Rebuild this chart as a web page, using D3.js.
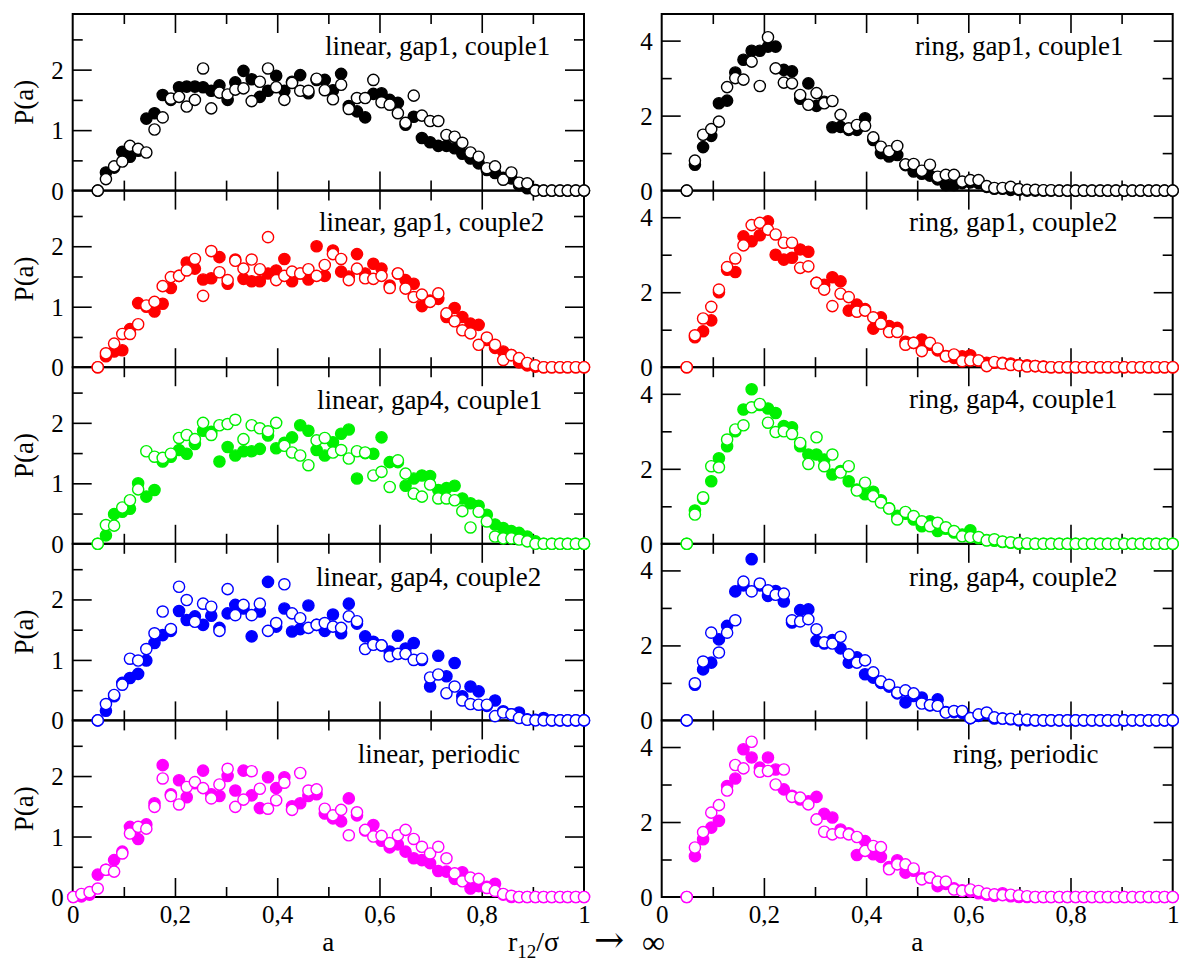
<!DOCTYPE html>
<html><head><meta charset="utf-8">
<script src="https://cdn.jsdelivr.net/npm/d3@7"></script>
<style>body{margin:0;background:#fff}</style>
</head><body>
<svg id="c" width="1180" height="970"></svg>
<script>
// ---------- DATA ----------
const aGrid = [0.049,0.065,0.081,0.097,0.112,0.128,0.144,0.160,0.176,0.192,0.208,0.223,0.239,0.255,0.271,0.287,0.303,0.318,0.334,0.350,0.366,0.382,0.398,0.414,0.429,0.445,0.461,0.477,0.493,0.509,0.525,0.540,0.556,0.572,0.588,0.604,0.620,0.636,0.651,0.667,0.683,0.699,0.715,0.731,0.747,0.762,0.778,0.794,0.810,0.826,0.842,0.858,0.873,0.889,0.905,0.921,0.937,0.953,0.968,0.984,1.000];
const aGridPeriodic = [0.001,0.017,0.033].concat(aGrid);

const linG1C1Filled = [0,0.30,0.38,0.64,0.56,0.66,1.19,1.28,1.58,1.50, 1.71,1.72,1.72,1.71,1.65,1.74,1.50,1.79,1.98,1.84, 1.55,1.65,1.90,1.65,1.80,1.91,1.61,1.83,1.83,1.66, 1.93,1.40,1.31,1.21,1.60,1.61,1.50,1.45,1.09,1.22, 0.87,0.80,0.74,0.74,0.70,0.61,0.53,0.45,0.34,0.29, 0.21,0.20,0.09,0.04,0.01,0,0,0,0,0,0];
const linG1C1Open = [0,0.19,0.40,0.48,0.74,0.69,0.63,1.01,1.21,1.52, 1.55,1.39,1.50,2.02,1.36,1.62,1.59,1.67,1.69,1.48, 1.80,2.02,1.71,1.50,1.78,1.65,1.65,1.85,1.66,1.51, 1.75,1.35,1.53,1.53,1.83,1.46,1.42,1.28,1.12,1.57, 1.24,1.15,1.15,0.92,0.89,0.79,0.63,0.56,0.37,0.40, 0.18,0.30,0.13,0.12,0,0,0,0,0,0,0];

const linG1C2Filled = [0,0.18,0.26,0.28,0.63,1.06,1.00,0.92,1.05,1.31, 1.51,1.73,1.63,1.45,1.47,1.82,1.38,1.78,1.46,1.42, 1.42,1.55,1.60,1.79,1.42,1.55,1.45,2.00,1.51,1.93, 1.58,1.50,1.87,1.55,1.71,1.63,1.35,1.55,1.44,1.38, 1.01,1.10,1.13,0.83,0.98,0.83,0.72,0.70,0.45,0.32, 0.26,0.20,0.08,0.03,0.01,0,0,0,0,0,0];
const linG1C2Open = [0,0.23,0.39,0.55,0.55,0.71,1.02,1.08,1.34,1.49, 1.51,1.60,1.79,1.18,1.92,1.57,1.44,1.76,1.63,1.78, 1.62,2.15,1.44,1.51,1.58,1.55,1.62,1.51,1.69,1.87, 1.79,1.44,1.63,1.47,1.46,1.51,1.31,1.55,1.30,1.16, 1.20,1.08,1.22,0.89,0.76,0.61,0.56,0.37,0.49,0.37, 0.12,0.20,0.15,0.07,0.03,0,0,0,0,0,0];

const linG4C1Filled = [0,0.14,0.49,0.53,0.58,1.00,0.78,0.89,1.36,1.44, 1.55,1.49,1.65,1.87,1.85,1.36,1.60,1.46,1.53,1.53, 1.57,1.79,1.58,1.67,1.76,1.96,1.87,1.55,1.46,1.68, 1.82,1.89,1.08,1.50,1.49,1.76,1.35,1.35,0.96,1.08, 1.13,1.12,0.89,0.92,0.96,0.75,0.67,0.63,0.48,0.32, 0.26,0.21,0.18,0.12,0.04,0,0,0,0,0,0];
const linG4C1Open = [0,0.31,0.30,0.60,0.72,0.90,1.53,1.44,1.42,1.49, 1.75,1.80,1.73,2.00,1.80,1.96,1.98,2.05,1.73,1.96, 1.91,1.86,2.00,1.62,1.51,1.46,1.30,1.71,1.75,1.51, 1.55,1.41,1.53,1.51,1.13,1.19,0.94,1.38,1.16,0.83, 0.78,0.98,0.75,0.75,0.72,0.54,0.27,0.53,0.37,0.12, 0.09,0.09,0.07,0.04,0,0,0,0,0,0,0];

const linG4C2Filled = [0,0.16,0.40,0.62,0.70,0.77,0.99,1.28,1.41,1.48, 1.81,1.66,1.72,1.58,1.73,1.53,1.77,1.91,1.85,1.39, 1.80,2.29,1.55,1.85,1.47,1.51,1.90,1.58,1.48,1.75, 1.44,1.93,1.60,1.39,1.30,1.24,1.14,1.40,1.19,1.28, 1.00,0.56,1.07,0.73,0.95,0.40,0.56,0.48,0.24,0.33, 0.15,0.10,0.13,0.02,0.01,0.04,0,0,0,0,0];
const linG4C2Open = [0,0.27,0.42,0.59,1.02,0.99,1.18,1.44,1.80,1.51, 2.21,1.99,1.63,1.93,1.88,1.48,2.17,1.74,1.91,1.74, 1.93,1.48,1.61,2.25,1.77,1.69,1.53,1.58,1.61,1.55, 1.53,1.72,1.64,1.18,1.25,1.24,1.06,1.10,1.10,1.00, 1.02,0.71,0.76,0.45,0.56,0.33,0.27,0.26,0.26,0.07, 0.13,0.10,0.04,0.01,0,0,0,0,0,0,0];

const linPerFilled = [0,0.01,0.04, 0.37,0.45,0.61,0.75,1.16,0.96,1.20,1.55,2.18,1.70, 1.93,1.65,1.88,2.09,1.70,1.67,2.00,1.76,2.09,1.68, 1.47,1.98,1.80,1.98,1.50,1.55,1.67,1.70,1.38,1.30, 1.25,1.63,1.35,1.10,1.19,0.93,0.82,0.87,0.75,0.64, 0.61,0.56,0.43,0.42,0.30,0.41,0.14,0.18,0.17,0.22, 0.04,0,0,0,0,0,0,0,0,0,0];
const linPerOpen = [0,0.05,0.08, 0.14,0.45,0.42,0.72,1.05,1.16,1.13,1.49,1.96,1.67, 1.53,1.82,1.90,1.80,1.63,1.86,2.12,1.49,1.61,2.08, 1.79,1.46,1.60,1.89,1.44,2.05,1.76,1.78,1.46,1.35, 1.44,1.02,1.40,1.11,1.00,1.01,0.89,1.02,1.11,0.96, 0.83,0.72,0.83,0.64,0.39,0.26,0.32,0.30,0.15,0.10, 0.05,0.02,0,0,0,0,0,0,0,0,0];

const ringG1C1Filled = [0,0.69,1.16,1.46,2.33,2.40,3.15,3.49,3.73,3.73, 3.84,3.84,3.22,3.18,2.45,2.86,2.26,2.37,1.69,1.70, 1.62,1.62,1.93,1.35,1.00,0.91,0.95,0.68,0.51,0.45, 0.40,0.30,0.15,0.15,0.20,0.22,0.20,0.10,0.05,0.05, 0.02,0.02,0,0,0,0,0,0,0,0, 0,0,0,0,0,0,0,0,0,0,0];
const ringG1C1Open = [0,0.80,1.49,1.64,1.84,2.76,3.00,2.96,3.44,2.79, 4.09,3.26,2.88,2.86,2.55,2.29,2.60,2.33,2.39,2.02, 1.66,1.75,1.73,1.42,1.17,1.05,1.19,0.70,0.71,0.53, 0.69,0.37,0.42,0.42,0.24,0.28,0.28,0.12,0.07,0.07, 0.10,0.04,0.02,0.02,0.01,0.01,0,0,0,0, 0,0,0,0,0,0,0,0,0,0,0];

const ringG1C2Filled = [0,0.80,0.96,1.25,2.00,2.60,2.54,3.49,3.36,3.52, 3.89,3.00,2.87,2.92,3.14,3.08,2.25,2.20,2.40,2.29, 1.51,1.67,1.55,1.03,1.33,1.10,1.05,0.68,0.65,0.74, 0.60,0.45,0.30,0.25,0.29,0.32,0.18,0.12,0.12,0.12, 0.10,0.06,0.05,0.03,0.02,0,0,0,0,0, 0,0,0,0,0,0,0,0,0,0,0];
const ringG1C2Open = [0,0.85,1.30,1.61,2.07,2.67,2.90,3.25,3.79,3.85, 3.67,3.54,3.32,3.32,2.65,2.69,2.25,2.07,1.63,1.96, 1.87,1.48,1.51,1.33,1.16,0.94,0.94,0.60,0.65,0.43, 0.65,0.50,0.29,0.34,0.16,0.18,0.18,0.03,0.14,0.10, 0.06,0.05,0.02,0.03,0.01,0,0,0,0,0, 0,0,0,0,0,0,0,0,0,0,0];

const ringG4C1Filled = [0,0.89,1.20,1.67,2.28,2.60,3.00,3.58,4.12,3.70, 3.61,3.49,3.14,3.11,2.60,2.38,2.38,2.25,1.85,1.94, 1.67,1.45,1.32,1.39,1.16,0.95,0.75,0.80,0.65,0.47, 0.60,0.34,0.40,0.30,0.25,0.36,0.15,0.10,0.08,0.05, 0.03,0,0,0,0,0,0,0,0,0, 0,0,0,0,0,0,0,0,0,0,0];
const ringG4C1Open = [0,0.78,1.24,2.07,2.04,2.78,3.05,3.16,3.64,3.73, 3.23,2.98,3.00,2.93,2.69,2.13,2.84,2.07,2.38,1.90, 2.07,1.42,1.63,1.27,1.10,0.94,0.65,0.85,0.74,0.60, 0.47,0.56,0.44,0.34,0.20,0.18,0.18,0.09,0.12,0.06, 0.04,0.02,0.01,0,0,0,0,0,0,0, 0,0,0,0,0,0,0,0,0,0,0];

const ringG4C2Filled = [0,0.95,1.36,1.54,2.16,2.52,3.44,3.60,4.30,3.60, 3.32,3.45,3.17,2.61,2.94,2.96,2.12,2.05,2.14,1.92, 1.54,1.68,1.23,1.14,1.00,0.90,0.72,0.48,0.65,0.61, 0.40,0.56,0.22,0.22,0.20,0.06,0.12,0.18,0.05,0.05, 0.03,0,0,0,0,0,0,0,0,0, 0,0,0,0,0,0,0,0,0,0,0];
const ringG4C2Open = [0,0.99,1.57,2.34,1.81,2.34,2.67,3.70,3.44,3.65, 3.47,3.35,3.38,2.67,2.64,2.70,2.43,2.08,2.05,2.23, 1.76,1.54,1.60,1.28,1.04,0.95,0.74,0.80,0.72,0.45, 0.41,0.39,0.21,0.25,0.25,0.06,0.16,0.21,0.08,0.05, 0.04,0.02,0.02,0,0,0,0,0,0,0, 0,0,0,0,0,0,0,0,0,0,0];

const ringPerFilled = [0,1.09,1.54,1.85,2.03,2.96,3.16,3.94,3.72,3.45, 3.72,3.40,2.87,2.70,2.60,2.55,2.67,2.22,2.12,1.80, 1.70,1.12,1.49,1.14,1.07,0.80,0.98,0.65,0.70,0.50, 0.52,0.29,0.35,0.23,0.18,0.15,0.10,0.06,0.03,0.10, 0.02,0,0,0,0,0,0,0,0,0, 0,0,0,0,0,0,0,0,0,0,0];
const ringPerOpen = [0,1.32,1.73,2.25,2.45,2.84,3.52,3.43,4.14,3.34, 3.36,3.00,3.40,2.67,2.65,2.47,2.07,1.74,1.67,1.72, 1.67,1.60,1.23,1.36,1.33,0.74,0.87,0.87,0.76,0.47, 0.52,0.41,0.41,0.20,0.16,0.20,0.16,0.09,0.07,0.05, 0.06,0.04,0.02,0,0,0,0,0,0,0, 0,0,0,0,0,0,0,0,0,0,0];

const panelTitles = ["linear, gap1, couple1","linear, gap1, couple2","linear, gap4, couple1","linear, gap4, couple2","linear, periodic",
                     "ring, gap1, couple1","ring, gap1, couple2","ring, gap4, couple1","ring, gap4, couple2","ring, periodic"];
const seriesColors = ["#000000","#ff0000","#00f000","#0000ff","#ff00ff"];
const xTickValues = [0,0.2,0.4,0.6,0.8,1];
const xTickLabels = ["0","0,2","0,4","0,6","0,8","1"];
const xMinorTicks = [0.1,0.3,0.5,0.7,0.9];
const yTicksLinear = [0,1,2], yMinorLinear = [0.5,1.5,2.5];
const yTicksRing = [0,2,4], yMinorRing = [1,3];

const panelData = [
  [aGrid, linG1C1Filled, linG1C1Open],
  [aGrid, linG1C2Filled, linG1C2Open],
  [aGrid, linG4C1Filled, linG4C1Open],
  [aGrid, linG4C2Filled, linG4C2Open],
  [aGridPeriodic, linPerFilled, linPerOpen],
  [aGrid, ringG1C1Filled, ringG1C1Open],
  [aGrid, ringG1C2Filled, ringG1C2Open],
  [aGrid, ringG4C1Filled, ringG4C1Open],
  [aGrid, ringG4C2Filled, ringG4C2Open],
  [aGrid, ringPerFilled, ringPerOpen]
];

// ---------- LAYOUT ----------
const colRange = [[72.7, 584], [661.7, 1172.7]];
const yMaxCol = [2.92, 4.71];
const topY = 14, panelH = 176.6;
const titleX = [325,319,317,316,357.7, 915,909,909,909,953];
const titleDY = [41,40,42,42,42.5, 41,40.6,41,42,43];
const FONT = "'Liberation Serif','Times New Roman',serif";
const R = 5.6;

const svg = d3.select("#c");
const gAxes = svg.append("g");
const gData = svg.append("g");

panelTitles.forEach((title, k) => {
  const col = Math.floor(k / 5), row = k % 5;
  const y0 = topY + row * panelH;
  const x = d3.scaleLinear().domain([0, 1]).range(colRange[col]);
  const y = d3.scaleLinear().domain([0, yMaxCol[col]]).range([y0 + panelH, y0]);
  const color = seriesColors[row];
  const yT = col === 0 ? yTicksLinear : yTicksRing;
  const yM = col === 0 ? yMinorLinear : yMinorRing;
  const g = gAxes.append("g");

  const tick = (axis, tr) => g.append("g").attr("transform", tr).call(axis)
    .call(s => { s.select(".domain").remove(); s.selectAll("text").remove();
                 s.selectAll("line").attr("stroke", "#000").attr("stroke-width", 1.6); });
  const [xl, xr] = colRange[col];
  tick(d3.axisBottom(x).tickValues(xTickValues.slice(1, -1)).tickSize(-19), `translate(0,${y0 + panelH})`);
  tick(d3.axisBottom(x).tickValues(xMinorTicks).tickSize(-10), `translate(0,${y0 + panelH})`);
  tick(d3.axisTop(x).tickValues(xTickValues.slice(1, -1)).tickSize(-19), `translate(0,${y0})`);
  tick(d3.axisTop(x).tickValues(xMinorTicks).tickSize(-10), `translate(0,${y0})`);
  tick(d3.axisLeft(y).tickValues(yT.slice(1)).tickSize(-19), `translate(${xl},0)`);
  tick(d3.axisLeft(y).tickValues(yM).tickSize(-10), `translate(${xl},0)`);
  tick(d3.axisRight(y).tickValues(yT.slice(1)).tickSize(-19), `translate(${xr},0)`);
  tick(d3.axisRight(y).tickValues(yM).tickSize(-10), `translate(${xr},0)`);

  g.append("g").attr("transform", `translate(${xl},0)`)
    .call(d3.axisLeft(y).tickValues(yT).tickSize(0).tickPadding(9).tickFormat(d3.format("d")))
    .call(s => { s.select(".domain").remove();
                 s.attr("font-family", FONT).attr("font-size", 25);
                 s.selectAll("text").attr("fill", "#000").attr("dy", "0.34em"); });

  if (row === 4) {
    g.append("g").attr("transform", `translate(0,${y0 + panelH})`)
      .call(d3.axisBottom(x).tickValues(xTickValues).tickSize(0).tickPadding(8)
            .tickFormat((d, i) => xTickLabels[i]))
      .call(s => { s.select(".domain").remove();
                   s.attr("font-family", FONT).attr("font-size", 25);
                   s.selectAll("text").attr("fill", "#000"); });
    g.append("text").attr("x", (xl + xr) / 2).attr("y", 951).attr("text-anchor", "middle")
      .attr("font-family", FONT).attr("font-size", 27).text("a");
  }
  if (col === 0) {
    g.append("text").attr("transform", `translate(33,${y0 + panelH / 2}) rotate(-90)`)
      .attr("text-anchor", "middle").attr("font-family", FONT).attr("font-size", 27).text("P(a)");
  }
  g.append("rect").attr("x", xl).attr("y", y0).attr("width", xr - xl).attr("height", panelH)
    .attr("fill", "none").attr("stroke", "#000").attr("stroke-width", 2);
  g.append("text").attr("x", titleX[k]).attr("y", y0 + titleDY[k])
    .attr("font-family", FONT).attr("font-size", 27).attr("fill", "#000").text(title);

  const [xs, filled, open] = panelData[k];
  const gd = gData.append("g");
  gd.selectAll("circle.f").data(xs.map((a, i) => [a, filled[i]]).filter(d => d[1] != null))
    .join("circle").attr("class", "f")
    .attr("cx", d => x(d[0])).attr("cy", d => y(d[1])).attr("r", R)
    .attr("fill", color).attr("stroke", color).attr("stroke-width", 1.4);
  gd.selectAll("circle.o").data(xs.map((a, i) => [a, open[i]]).filter(d => d[1] != null))
    .join("circle").attr("class", "o")
    .attr("cx", d => x(d[0])).attr("cy", d => y(d[1])).attr("r", R)
    .attr("fill", "#fff").attr("stroke", color).attr("stroke-width", 1.4);
});

// bottom centre label
const lab = svg.append("text").attr("x", 508).attr("y", 951)
  .attr("font-family", FONT).attr("font-size", 28).attr("fill", "#000");
lab.append("tspan").text("r");
lab.append("tspan").attr("font-size", 19).attr("dy", 7).text("12");
lab.append("tspan").attr("dy", -7).text("/σ");
svg.append("text").attr("x", 594).attr("y", 952).attr("font-family", "'DejaVu Serif',serif")
  .attr("font-size", 36).attr("fill", "#000").text("→");
svg.append("text").attr("x", 642).attr("y", 953).attr("font-family", FONT)
  .attr("font-size", 32).attr("fill", "#000").text("∞");
</script>
</body></html>
